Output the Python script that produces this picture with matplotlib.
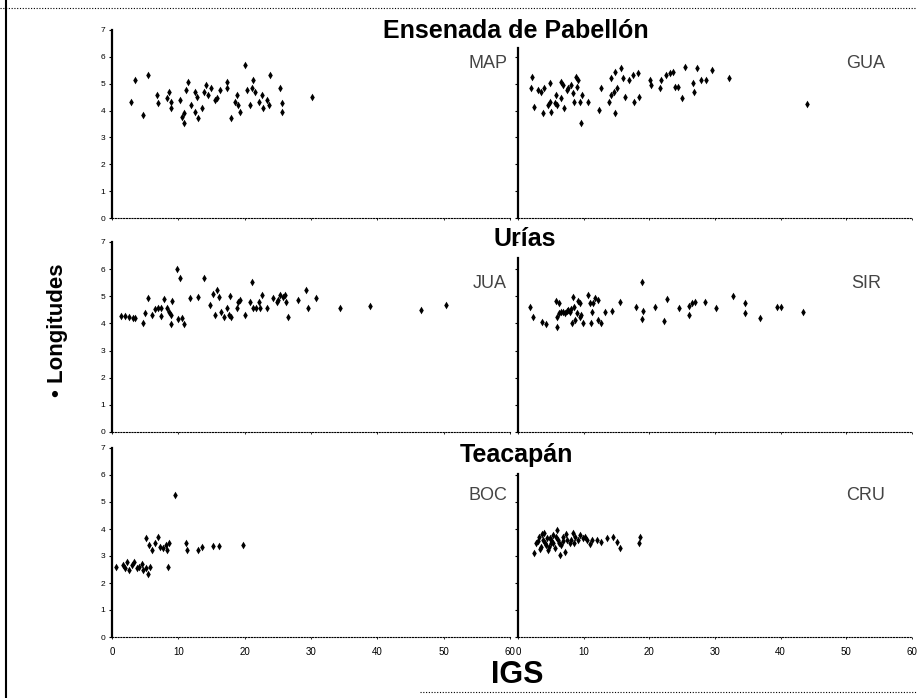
import numpy as np
import matplotlib
matplotlib.use('Agg')
import matplotlib.pyplot as plt
from matplotlib.lines import Line2D

plt.rcParams['font.family'] = ['Liberation Sans', 'DejaVu Sans']

# Ensenada de Pabellon
map_x = [2.9, 3.4, 4.6, 5.4, 6.8, 6.9, 8.3, 8.6, 8.9, 8.9, 10.3, 10.5, 10.8, 10.9, 11.1, 11.5, 11.9,
         12.5, 12.8, 12.5, 12.9, 13.5, 13.8, 14.2, 14.5, 14.9, 15.5, 15.9, 16.3, 17.3, 17.4, 17.9,
         18.5, 18.8, 19.0, 19.3, 20.0, 20.3, 20.8, 21.1, 21.3, 21.5, 22.1, 22.6, 22.8, 23.3, 23.6,
         23.8, 25.3, 25.6, 25.7, 30.1]
map_y = [4.33, 5.14, 3.84, 5.33, 4.58, 4.27, 4.46, 4.71, 4.33, 4.08, 4.39, 3.77, 3.53, 3.90, 4.77, 5.08, 4.21,
         4.71, 4.52, 3.96, 3.71, 4.08, 4.71, 4.95, 4.58, 4.83, 4.39, 4.46, 4.77, 4.83, 5.08, 3.71,
         4.33, 4.58, 4.21, 3.96, 5.70, 4.77, 4.21, 4.83, 5.14, 4.71, 4.33, 4.58, 4.08, 4.39, 4.21,
         5.33, 4.83, 4.27, 3.96, 4.52]

gua_x = [2.1, 2.0, 2.4, 3.0, 3.5, 3.8, 4.0, 4.6, 4.8, 4.9, 5.0, 5.7, 5.8, 6.0, 6.5, 6.6, 6.9, 7.0, 7.4,
         7.6, 8.1, 8.4, 8.6, 8.9, 9.0, 9.1, 9.4, 9.6, 9.7, 10.6, 12.3, 12.7, 13.8, 14.1, 14.2, 14.6,
         14.7, 14.8, 15.1, 15.7, 16.0, 16.3, 16.9, 17.5, 17.7, 18.2, 18.5, 20.1, 20.2, 21.6, 21.8,
         22.6, 23.1, 23.6, 23.9, 24.4, 24.9, 25.4, 26.6, 26.8, 27.2, 27.9, 28.7, 29.5, 32.1, 44.0]
gua_y = [5.26, 4.83, 4.15, 4.77, 4.71, 3.90, 4.83, 4.21, 4.33, 5.02, 3.96, 4.27, 4.58, 4.21, 5.08, 4.46,
         4.95, 4.08, 4.77, 4.83, 4.95, 4.64, 4.33, 5.26, 4.89, 5.14, 4.33, 3.53, 4.58, 4.33, 4.02, 4.83,
         4.33, 5.20, 4.58, 4.71, 3.90, 5.45, 4.83, 5.59, 5.20, 4.52, 5.14, 5.33, 4.33, 5.39, 4.52, 5.14,
         4.95, 4.83, 5.14, 5.33, 5.39, 5.45, 4.89, 4.89, 4.46, 5.64, 5.02, 4.71, 5.59, 5.14, 5.14, 5.51,
         5.20, 4.25]

# Urias
jua_x = [1.3, 1.9, 2.5, 3.1, 3.4, 4.6, 4.9, 5.5, 6.0, 6.5, 6.9, 7.4, 7.4, 7.9, 8.3, 8.6, 8.9, 9.0, 8.9,
         9.8, 10.3, 9.9, 10.5, 10.9, 11.8, 12.9, 13.8, 14.8, 15.3, 15.6, 15.9, 16.1, 16.5, 16.9, 17.3,
         17.6, 17.8, 18.0, 18.8, 19.0, 19.3, 20.0, 20.8, 21.1, 21.3, 21.7, 22.1, 22.3, 22.6, 23.3,
         24.3, 24.8, 25.1, 25.3, 25.8, 26.1, 26.3, 26.6, 28.1, 29.2, 29.6, 30.8, 34.3, 38.9, 46.6, 50.4]
jua_y = [4.29, 4.29, 4.25, 4.21, 4.19, 4.00, 4.37, 4.93, 4.31, 4.53, 4.58, 4.29, 4.56, 4.90, 4.56, 4.43,
         4.31, 4.83, 3.97, 6.01, 5.69, 4.16, 4.21, 3.97, 4.93, 4.99, 5.69, 4.68, 5.07, 4.31, 5.23, 4.99,
         4.43, 4.25, 4.56, 4.31, 5.02, 4.25, 4.56, 4.80, 4.86, 4.31, 4.80, 5.54, 4.56, 4.56, 4.80, 4.56,
         5.05, 4.58, 4.93, 4.80, 4.86, 5.05, 4.99, 5.05, 4.80, 4.25, 4.86, 5.23, 4.56, 4.93, 4.58, 4.65,
         4.50, 4.68]

sir_x = [1.9, 2.3, 3.7, 4.3, 5.8, 6.2, 6.0, 6.0, 6.3, 6.6, 6.9, 7.1, 7.4, 7.6, 7.9, 8.1, 8.2, 8.4, 8.6,
         8.7, 9.0, 9.2, 9.4, 9.5, 9.6, 9.9, 10.7, 10.9, 11.1, 11.2, 11.4, 11.8, 12.2, 12.2, 12.7, 13.3,
         14.3, 15.6, 18.0, 18.9, 19.0, 18.9, 20.8, 22.3, 22.7, 24.5, 26.0, 26.1, 26.5, 26.9, 28.5, 30.2,
         32.7, 34.5, 34.6, 36.8, 39.5, 40.0, 43.4]
sir_y = [4.59, 4.25, 4.07, 3.98, 4.84, 4.74, 4.25, 3.88, 4.37, 4.43, 4.43, 4.37, 4.47, 4.50, 4.43, 4.52,
         4.00, 4.99, 4.62, 4.13, 4.37, 4.84, 4.74, 4.25, 4.31, 4.03, 5.05, 4.74, 4.00, 4.43, 4.77, 4.93,
         4.86, 4.13, 4.00, 4.43, 4.47, 4.80, 4.59, 5.54, 4.47, 4.15, 4.62, 4.10, 4.89, 4.56, 4.64, 4.31,
         4.74, 4.80, 4.80, 4.56, 5.01, 4.74, 4.37, 4.19, 4.59, 4.62, 4.42]

# Teacapan
boc_x = [9.5, 5.1, 5.6, 6.0, 6.5, 7.0, 7.3, 7.7, 8.2, 8.6, 8.3, 11.2, 11.3, 13.0, 13.5, 15.3, 16.2, 19.7,
         8.4, 0.6, 1.6, 2.0, 2.2, 2.6, 3.0, 3.3, 3.7, 4.1, 4.5, 4.7, 5.2, 5.5, 5.7]
boc_y = [5.26, 3.65, 3.41, 3.22, 3.47, 3.72, 3.35, 3.28, 3.41, 3.47, 3.22, 3.47, 3.22, 3.22, 3.35, 3.38,
         3.38, 3.41, 2.60, 2.60, 2.67, 2.54, 2.79, 2.47, 2.67, 2.79, 2.54, 2.60, 2.72, 2.47, 2.54, 2.35,
         2.60]

cru_x = [2.4, 2.8, 3.2, 3.5, 3.8, 4.0, 4.3, 4.5, 4.8, 5.1, 5.4, 5.6, 5.9, 6.1, 6.4, 6.6, 6.9, 7.2, 7.5,
         7.9, 8.3, 8.7, 9.2, 9.5, 9.9, 10.5, 11.2, 12.0, 12.7, 13.5, 14.5, 15.1, 15.5, 18.6, 18.5,
         3.0, 3.3, 3.6, 4.1, 4.4, 4.7, 5.0, 5.3, 5.8, 6.3, 6.8, 7.3, 8.0, 8.6, 10.2, 11.0]
cru_y = [3.10, 3.47, 3.72, 3.34, 3.59, 3.84, 3.41, 3.22, 3.65, 3.47, 3.78, 3.28, 3.96, 3.59, 3.04, 3.41,
         3.72, 3.16, 3.59, 3.47, 3.84, 3.72, 3.59, 3.78, 3.65, 3.59, 3.59, 3.59, 3.53, 3.65, 3.72, 3.53,
         3.28, 3.72, 3.47, 3.55, 3.25, 3.80, 3.50, 3.65, 3.35, 3.60, 3.50, 3.70, 3.50, 3.55, 3.80, 3.60,
         3.50, 3.70, 3.45]

rows = ['Ensenada de Pabellón', 'Urías', 'Teacapán']
sites = [['MAP', 'GUA'], ['JUA', 'SIR'], ['BOC', 'CRU']]
data = {'MAP': (map_x, map_y), 'GUA': (gua_x, gua_y), 'JUA': (jua_x, jua_y),
        'SIR': (sir_x, sir_y), 'BOC': (boc_x, boc_y), 'CRU': (cru_x, cru_y)}
xticks = [0, 10, 20, 30, 40, 50, 60]

W, H = 917, 698
fig = plt.figure(figsize=(W / 100, H / 100), dpi=100)

# panel geometry in pixels: (top of y axis, bottom), right spine start, title baseline
rows_px = [(30, 218, 48, 38), (242, 432, 258, 246), (448, 637, 474, 462)]
title_x = [516, 525, 516]
label_y = [64, 283, 495]

for i in range(3):
    top, bot, rtop, base = rows_px[i]
    for j in range(2):
        x0, x1 = (112, 510) if j == 0 else (518, 912)
        ax = fig.add_axes([x0 / W, 1 - bot / H, (x1 - x0) / W, (bot - top) / H])
        xs, ys = data[sites[i][j]]
        ax.scatter(xs, ys, s=15, marker='d', color='black', linewidths=0)
        ax.set_xlim(0, 60)
        ax.set_ylim(0, 7)
        ax.spines['top'].set_visible(False)
        ax.spines['right'].set_visible(False)
        ax.spines['left'].set_linewidth(1.6)
        ax.spines['bottom'].set_linestyle((0, (1, 1.5)))
        ax.spines['bottom'].set_linewidth(0.8)
        if j == 1:
            ax.spines['left'].set_bounds(0, (bot - rtop) / (bot - top) * 7)
        ax.set_yticks(range(8))
        ax.tick_params(axis='y', length=2, width=0.8, labelsize=6, pad=3,
                       labelleft=(j == 0))
        ax.set_xticks(xticks)
        ax.tick_params(axis='x', length=1.5, width=0.6, labelsize=7, pad=6,
                       labelbottom=(i == 2))
        if j == 0:
            ax.text(507 / W, 1 - label_y[i] / H, sites[i][j], transform=fig.transFigure,
                    ha='right', va='center', fontsize=13, color='#444444')
        else:
            ax.text(866 / W, 1 - label_y[i] / H, sites[i][j], transform=fig.transFigure,
                    ha='center', va='center', fontsize=13, color='#444444')
    fig.text(title_x[i] / W, 1 - base / H, rows[i], ha='center', va='baseline',
             fontsize=18, fontweight='bold')

fig.text(58 / W, 1 - 330 / H, '• Longitudes', rotation=90, ha='center', va='center',
         fontsize=16, fontweight='bold')
fig.text(517 / W, 1 - 675 / H, 'IGS', ha='center', va='center', fontsize=22, fontweight='bold')

# scan frame
fig.add_artist(Line2D([6 / W, 6 / W], [0, 1], color='black', lw=1.5))
fig.add_artist(Line2D([0, 1], [1 - 8 / H, 1 - 8 / H], color='black', lw=0.8, ls=(0, (1, 1.5))))
fig.add_artist(Line2D([420 / W, 1], [1 - 692 / H, 1 - 692 / H], color='black', lw=0.8,
                      ls=(0, (1, 1.5))))

fig.savefig('out.png', dpi=100)
